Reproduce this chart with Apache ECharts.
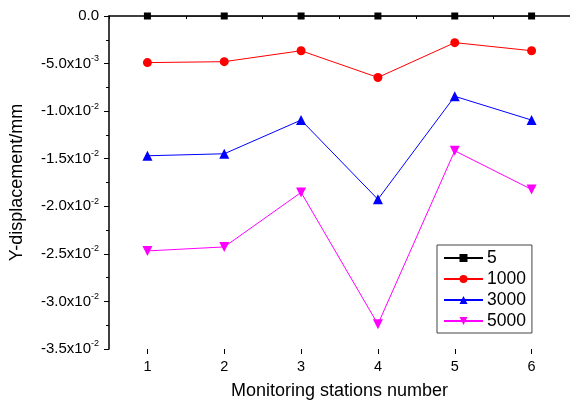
<!DOCTYPE html>
<html><head><meta charset="utf-8">
<script src="https://cdn.jsdelivr.net/npm/echarts@6/dist/echarts.min.js"></script>
<style>html,body{margin:0;padding:0;background:#fff}#c{width:570px;height:405px}</style>
</head><body><div id="c"></div>
<script>
const stations = [1, 2, 3, 4, 5, 6];
const seriesNames = ['5', '1000', '3000', '5000'];
const s5 = [0, 0, 0, 0, 0, 0];
const s1000 = [-0.0049, -0.0048, -0.00365, -0.00646, -0.0028, -0.00365];
const s3000 = [-0.01469, -0.01448, -0.01094, -0.01927, -0.00844, -0.01094];
const s5000 = [-0.02469, -0.02427, -0.01854, -0.0324, -0.01417, -0.01823];
const yTicks = [0, -0.005, -0.01, -0.015, -0.02, -0.025, -0.03, -0.035];

const chart = echarts.init(document.getElementById('c'));
const font = 'Liberation Sans, Arial, sans-serif';
function fmtY(v) {
  v = +(+v).toPrecision(6);
  if (Math.abs(v) < 1e-12) return '{b|0.0}';
  let e = Math.floor(Math.log10(Math.abs(v)));
  let m = v / Math.pow(10, e);
  if (Math.abs(m) >= 9.95) { e += 1; m = v / Math.pow(10, e); }
  return '{b|' + m.toFixed(1) + 'x10}{s|' + e + '}';
}
function pairs(arr) { return stations.map((x, i) => [x, arr[i]]); }
const colors = ['#000000', '#ff0000', '#0000ff', '#ff00ff'];
const symbols = ['rect', 'circle', 'triangle', 'triangle'];
const sizes = [7, 9, 10, 10];
const rot = [0, 0, 0, 180];
const data = [s5, s1000, s3000, s5000];

chart.setOption({
  animation: false,
  backgroundColor: '#fff',
  grid: { left: 109, right: 0, top: 16, bottom: 53, containLabel: false },
  xAxis: [{
    type: 'value', min: 0.5, max: 6.5, interval: 0.5,
    axisLine: { show: true, lineStyle: { color: '#000', width: 1.5 } },
    axisTick: { show: true, length: 3, lineStyle: { color: '#000' } },
    axisLabel: { show: false },
    splitLine: { show: false },
    name: 'Monitoring stations number', nameLocation: 'middle', nameGap: 33,
    nameTextStyle: { fontFamily: font, fontSize: 18, color: '#000' }
  }, {
    type: 'value', min: 0.5, max: 6.5, position: 'bottom',
    axisLine: { show: false },
    axisTick: { show: true, length: 5, customValues: stations, lineStyle: { color: '#000' } },
    axisLabel: { show: true, customValues: stations, margin: 10, fontFamily: font, fontSize: 14.5, color: '#000' },
    splitLine: { show: false }
  }],
  yAxis: {
    type: 'value', min: -0.035, max: 0, interval: 0.005,
    axisLine: { show: true, lineStyle: { color: '#000', width: 1.5 } },
    axisTick: { show: true, length: 5, lineStyle: { color: '#000' } },
    minorTick: { show: true, splitNumber: 2, length: 3, lineStyle: { color: '#000' } },
    splitLine: { show: false },
    axisLabel: {
      margin: 10, formatter: fmtY, color: '#000',
      rich: {
        b: { fontFamily: font, fontSize: 15, color: '#000' },
        s: { fontFamily: font, fontSize: 9, color: '#000', padding: [0, 0, 10, 0] }
      }
    },
    name: 'Y-displacement/mm', nameLocation: 'middle', nameGap: 83,
    nameTextStyle: { fontFamily: font, fontSize: 18, color: '#000' }
  },
  legend: {
    orient: 'vertical', left: 437, top: 245,
    padding: [4, 6, 3, 6], itemGap: 3,
    itemWidth: 39, itemHeight: 10,
    borderColor: '#444', borderWidth: 1,
    textStyle: { fontFamily: font, fontSize: 17.5, color: '#000', padding: [0, 0, 0, -1] },
    data: seriesNames
  },
  series: data.map((d, i) => ({
    name: seriesNames[i], type: 'line', xAxisIndex: 0,
    data: pairs(d),
    symbol: symbols[i], symbolSize: sizes[i], symbolRotate: rot[i],
    lineStyle: { color: colors[i], width: 1 },
    itemStyle: { color: colors[i] },
    z: 10 - i
  }))
});
</script></body></html>
